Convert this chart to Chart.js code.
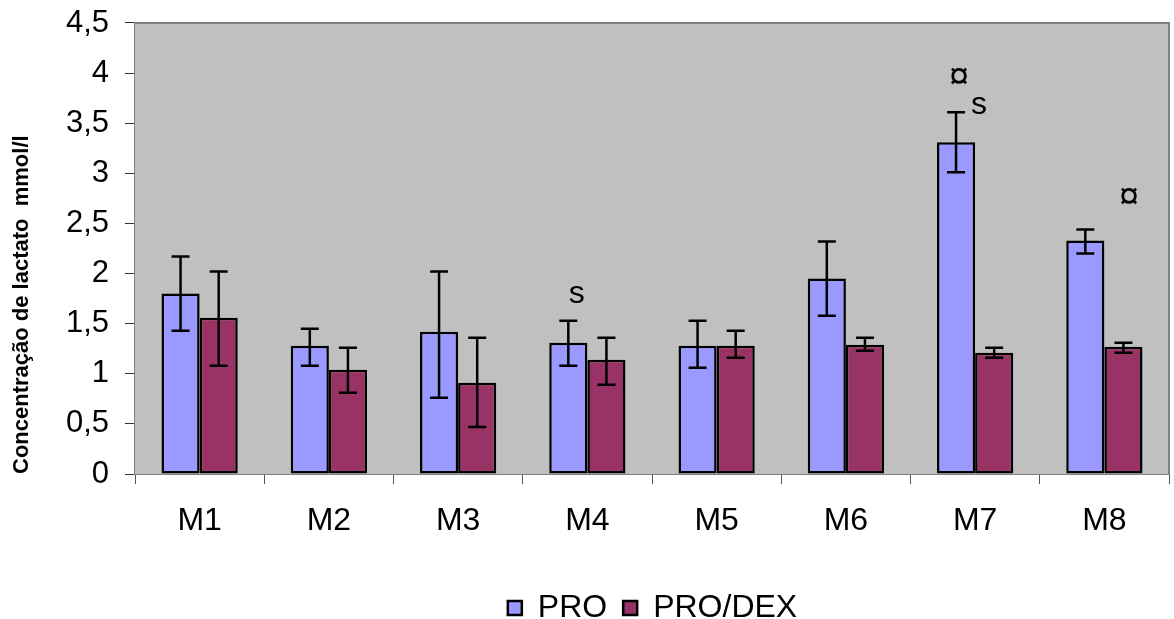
<!DOCTYPE html>
<html>
<head>
<meta charset="utf-8">
<script src="https://cdn.jsdelivr.net/npm/chart.js@4"></script>
<style>
  body { margin: 0; background: #fff; }
  #wrap { width: 1174px; height: 619px; }
</style>
</head>
<body>
<div id="wrap"><canvas id="lactato_chart"></canvas></div>
<script>
// dados
var categorias = ['M1', 'M2', 'M3', 'M4', 'M5', 'M6', 'M7', 'M8'];
var yTickLabels = ['0', '0,5', '1', '1,5', '2', '2,5', '3', '3,5', '4', '4,5'];

var proMedia = [1.80, 1.28, 1.42, 1.31, 1.28, 1.95, 3.31, 2.33];
var proMin   = [1.43, 1.08, 0.76, 1.08, 1.06, 1.58, 3.01, 2.20];
var proMax   = [2.17, 1.45, 2.02, 1.53, 1.53, 2.32, 3.61, 2.44];

var dexMedia = [1.56, 1.04, 0.91, 1.14, 1.28, 1.29, 1.21, 1.27];
var dexMin   = [1.08, 0.81, 0.47, 0.89, 1.16, 1.23, 1.16, 1.21];
var dexMax   = [2.02, 1.26, 1.36, 1.36, 1.43, 1.36, 1.26, 1.31];

// marcas de significancia: texto, categoria, deslocamento (fracao da categoria), valor y
var marcaTexto  = ['s', '\u00a4', 's', '\u00a4'];
var marcaCat    = [3, 6, 6, 7];
var marcaDesloc = [-0.083, -0.125, 0.03, 0.19];
var marcaY      = [1.79, 3.95, 3.68, 2.75];

var FONTE = "'Liberation Sans', Arial, sans-serif";

var fundoPlugin = {
  id: 'fundo',
  afterLayout: function(chart) {
    // legenda um pouco mais a direita e mais abaixo, como no original
    var lg = chart.legend;
    lg.left += 68; lg.right += 68;
    lg.top += 15; lg.bottom += 15;
  },
  beforeDatasetsDraw: function(chart) {
    var a = chart.chartArea, ctx = chart.ctx;
    ctx.save();
    ctx.fillStyle = '#C0C0C0';
    ctx.fillRect(a.left, a.top, a.right - a.left, a.bottom - a.top);
    ctx.strokeStyle = '#808080';
    ctx.lineWidth = 2;
    ctx.beginPath();
    ctx.moveTo(a.left, a.top);
    ctx.lineTo(a.right, a.top);
    ctx.lineTo(a.right, a.bottom);
    ctx.stroke();
    ctx.restore();
  }
};

var errosPlugin = {
  id: 'erros',
  afterDatasetsDraw: function(chart) {
    var ctx = chart.ctx, y = chart.scales.y;
    var mins = [proMin, dexMin], maxs = [proMax, dexMax];
    ctx.save();
    ctx.strokeStyle = '#000';
    ctx.lineWidth = 2.5;
    chart.data.datasets.forEach(function(ds, d) {
      chart.getDatasetMeta(d).data.forEach(function(bar, i) {
        var y1 = y.getPixelForValue(mins[d][i]);
        var y2 = y.getPixelForValue(maxs[d][i]);
        ctx.beginPath();
        ctx.moveTo(bar.x, y1); ctx.lineTo(bar.x, y2);
        ctx.moveTo(bar.x - 9, y1); ctx.lineTo(bar.x + 9, y1);
        ctx.moveTo(bar.x - 9, y2); ctx.lineTo(bar.x + 9, y2);
        ctx.stroke();
      });
    });
    // marcas
    var x = chart.scales.x;
    var larg = (x.right - x.left) / categorias.length;
    ctx.fillStyle = '#000';
    ctx.textAlign = 'center';
    ctx.textBaseline = 'middle';
    for (var k = 0; k < marcaTexto.length; k++) {
      ctx.font = (marcaTexto[k] === 's' ? '32px ' : '36px ') + FONTE;
      ctx.fillText(marcaTexto[k], x.getPixelForValue(marcaCat[k]) + marcaDesloc[k] * larg, y.getPixelForValue(marcaY[k]));
    }
    ctx.restore();
  }
};

var ctx = document.getElementById('lactato_chart');

var chart = new Chart(ctx, {
  type: 'bar',
  data: {
    labels: categorias,
    datasets: [
      {
        label: 'PRO',
        data: proMedia,
        backgroundColor: '#9999FF',
        borderColor: '#000',
        borderWidth: 2.5,
        borderSkipped: false
      },
      {
        label: 'PRO/DEX',
        data: dexMedia,
        backgroundColor: '#993366',
        borderColor: '#000',
        borderWidth: 2.5,
        borderSkipped: false
      }
    ]
  },
  options: {
    responsive: true,
    maintainAspectRatio: false,
    animation: false,
    layout: { padding: { top: 10, right: 5, left: 0, bottom: 0 } },
    datasets: { bar: { categoryPercentage: 0.59, barPercentage: 1 } },
    plugins: {
      tooltip: { enabled: false },
      legend: {
        position: 'bottom',
        labels: {
          font: { family: FONTE, size: 32 },
          color: '#000',
          boxWidth: 14,
          boxHeight: 14,
          padding: 16
        }
      }
    },
    scales: {
      x: {
        afterFit: function(s) { s.height = 87; },
        grid: { drawOnChartArea: false, drawTicks: true, tickLength: 10, color: '#555', offset: true },
        border: { color: '#808080', width: 2 },
        ticks: { font: { family: FONTE, size: 32 }, color: '#000', padding: 18 }
      },
      y: {
        min: 0,
        max: 4.5,
        afterFit: function(s) { s.width = 135; },
        grid: { drawOnChartArea: false, drawTicks: true, tickLength: 10, color: '#333' },
        border: { color: '#808080', width: 2 },
        ticks: {
          stepSize: 0.5,
          font: { family: FONTE, size: 31, lineHeight: 0.45 },
          color: '#000',
          padding: 16,
          callback: function(v, i) { return yTickLabels[i]; }
        },
        title: {
          display: true,
          text: 'Concentração de lactato  mmol/l',
          align: 'start',
          font: { family: FONTE, size: 22, weight: 'bold' },
          color: '#000',
          padding: { top: 9, bottom: 0 }
        }
      }
    }
  },
  plugins: [fundoPlugin, errosPlugin]
});
</script>
</body>
</html>
